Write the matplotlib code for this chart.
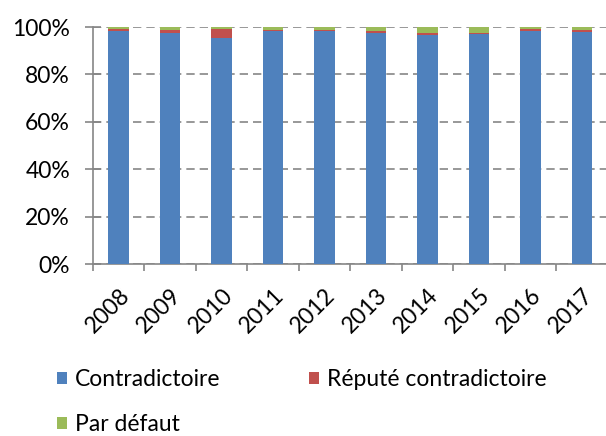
import matplotlib.pyplot as plt
import numpy as np

plt.rcParams['font.family'] = ['Lato', 'DejaVu Sans']

years = ['2008', '2009', '2010', '2011', '2012', '2013', '2014', '2015', '2016', '2017']
contradictoire = [98.5, 97.5, 95.5, 98.3, 98.3, 97.6, 96.5, 96.9, 98.3, 97.7]
repute = [0.5, 1.2, 3.7, 0.6, 0.6, 0.8, 1.0, 0.6, 0.9, 0.9]
par_defaut = [1.0, 1.3, 0.8, 1.1, 1.1, 1.6, 2.5, 2.5, 0.8, 1.4]

fig = plt.figure(figsize=(6.06, 4.36), dpi=100)
ax = fig.add_axes([93 / 606, 1 - 264 / 436, (607.7 - 93) / 606, 237 / 436])

x = np.arange(len(years))
w = 0.4
c = np.array(contradictoire)
r = np.array(repute)
p = np.array(par_defaut)
b1 = ax.bar(x, c, w, color='#4f81bd', label='Contradictoire', zorder=3)
b2 = ax.bar(x, r, w, bottom=c, color='#c0504d', label='Réputé contradictoire', zorder=3)
b3 = ax.bar(x, p, w, bottom=c + r, color='#9bbb59', label='Par défaut', zorder=3)

fs = 16.5
ax.set_xlim(-0.5, len(years) - 0.5)
ax.set_ylim(0, 100)
ax.set_yticks(range(0, 101, 20))
ax.set_yticklabels([f'{v}%' for v in range(0, 101, 20)], fontsize=fs)
ax.yaxis.grid(True, color='#868686', linestyle=(0, (5, 3)), linewidth=1.2)
ax.set_axisbelow(True)

ax.set_xticks(x)
ax.set_xticklabels(years, rotation=45, ha='right', rotation_mode='anchor', fontsize=fs)
ax.tick_params(axis='x', length=0, pad=15)
ax.set_xticks(np.arange(-0.5, len(years), 1), minor=True)
ax.tick_params(axis='x', which='minor', length=5, width=1.2, color='#868686', direction='out')
ax.tick_params(axis='y', length=11, width=1.2, color='#868686', direction='inout', pad=11)

for s in ['top', 'right']:
    ax.spines[s].set_visible(False)
for s in ['left', 'bottom']:
    ax.spines[s].set_color('#868686')
    ax.spines[s].set_linewidth(1.2)

fig.legend([b1, b3, b2], ['Contradictoire', 'Par défaut', 'Réputé contradictoire'],
           loc='upper left', bbox_to_anchor=(57 / 606, 1 - 369 / 436), ncol=2,
           frameon=False, fontsize=fs, handlelength=0.45, handleheight=0.45,
           handletextpad=0.35, columnspacing=3.85, labelspacing=1.05, borderpad=0,
           borderaxespad=0)

fig.savefig('out.png', dpi=100)
